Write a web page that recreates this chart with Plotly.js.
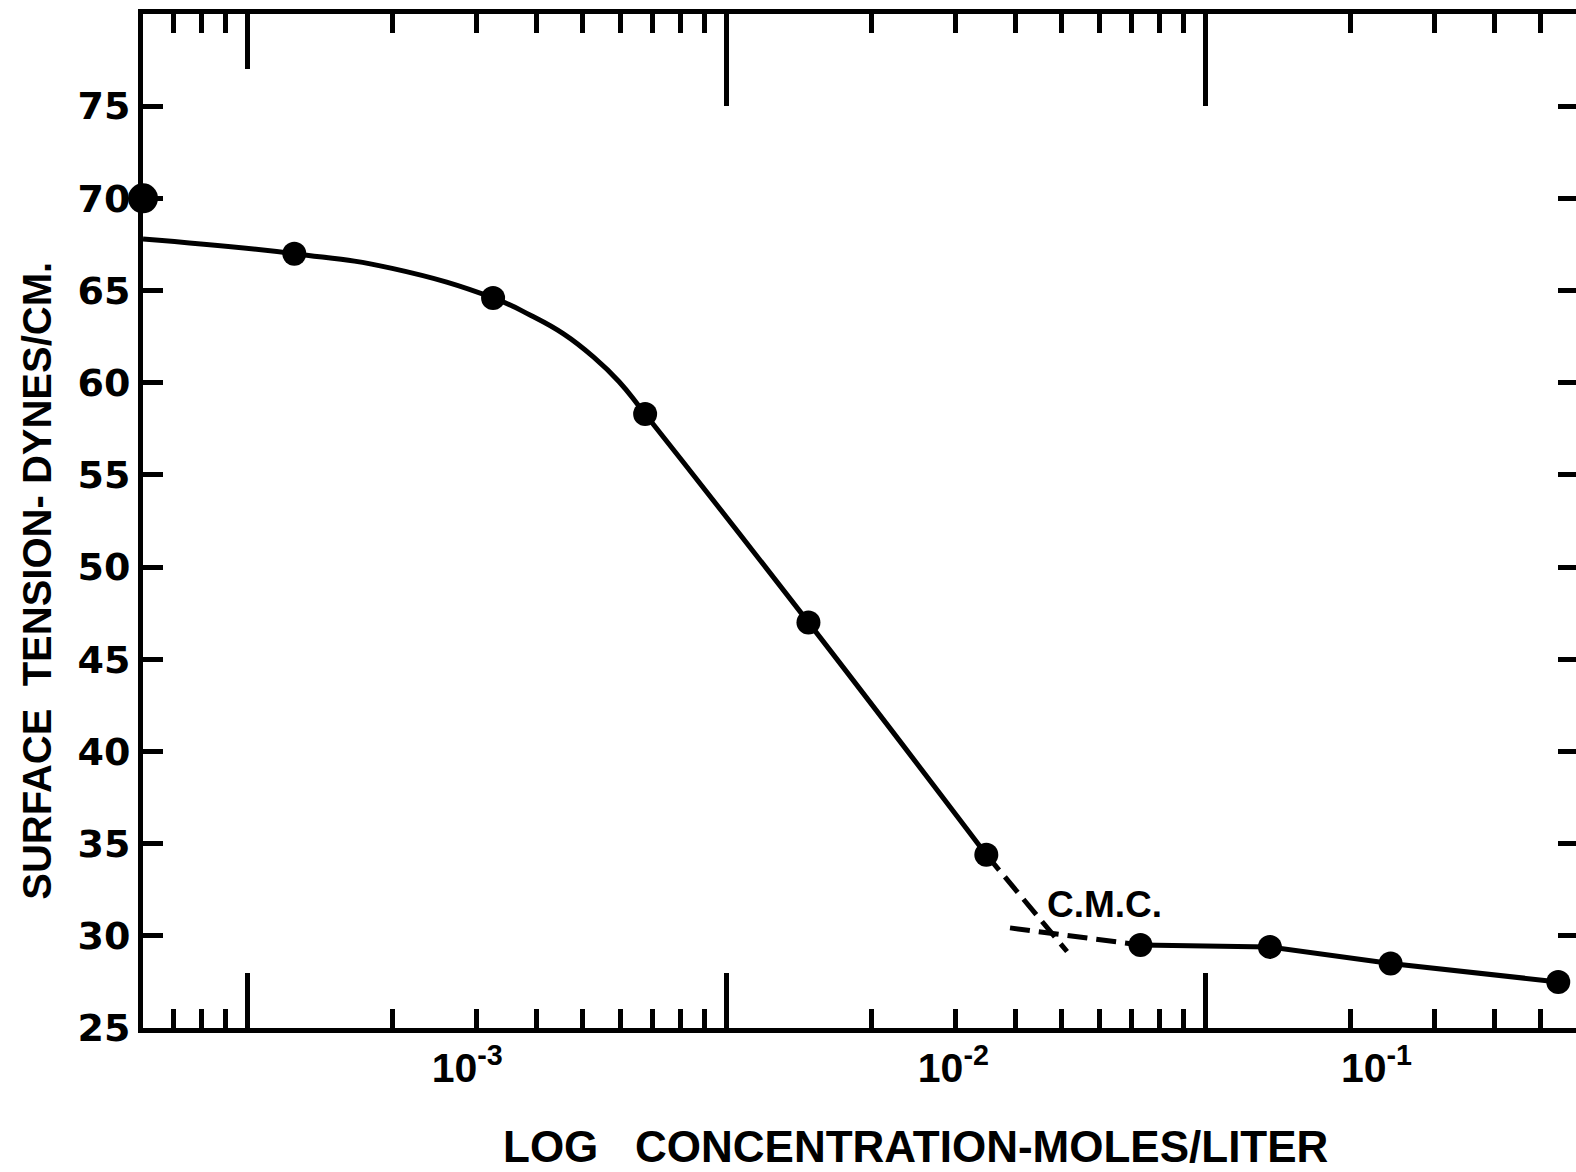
<!DOCTYPE html>
<html>
<head>
<meta charset="utf-8">
<script src="https://cdn.plot.ly/plotly-3.0.1.min.js"></script>
<style>
  html, body { margin: 0; padding: 0; background: #ffffff; overflow: hidden; }
  #chart { width: 1578px; height: 1172px; }
</style>
</head>
<body>
<div id="chart"></div>
<script>
// Surface tension of an aqueous surfactant solution against log concentration.

// Measured points (mol/L, dynes/cm)
const concentration = [1.25e-3, 3.25e-3, 6.75e-3, 1.48e-2, 3.48e-2, 7.3e-2, 0.136, 0.243, 0.544];
const surfaceTension = [67.0, 64.6, 58.3, 47.0, 34.4, 29.5, 29.4, 28.5, 27.5];

// Solvent value plotted on the left axis
const solventConc = [6.04e-4];
const solventTension = [70.0];

// Drawn curve below the CMC
const curveConc = [6.04e-4, 1.25e-3, 2.0e-3, 3.25e-3, 3.89e-3, 4.56e-3, 5.27e-3, 5.95e-3, 6.75e-3, 1.48e-2, 3.48e-2];
const curveTension = [67.8, 67.0, 66.2, 64.6, 63.66, 62.65, 61.39, 60.07, 58.3, 47.0, 34.4];

// Dashed extrapolations meeting at the CMC
const steepExtConc = [3.48e-2, 5.13e-2];
const steepExtTension = [34.4, 29.15];
const plateauExtConc = [3.9e-2, 7.3e-2];
const plateauExtTension = [30.43, 29.5];

// Line above the CMC
const plateauConc = [7.3e-2, 0.136, 0.243, 0.544];
const plateauTension = [29.5, 29.4, 28.5, 27.5];

// Critical micelle concentration (crossing of the two extrapolations)
const cmcConc = 4.7e-2;
const cmcTension = 30.2;
const cmcLabel = 'C.M.C.';

// Axis ticks and labels
const yTickVals = [25, 30, 35, 40, 45, 50, 55, 60, 65, 70, 75];
const decadeTicks = [1e-3, 1e-2, 1e-1];
const decadeLabels = ['10<sup>-3</sup>', '10<sup>-2</sup>', '10<sup>-1</sup>'];
const decadeLabelAt = [2.87e-3, 2.97e-2, 0.227];
const xTitle = 'LOG\u00a0\u00a0 CONCENTRATION-MOLES/LITER';
const yTitle = 'SURFACE\u00a0 TENSION- DYNES/CM.';

const xRange = [Math.log10(6.04e-4), -0.2232];
const yRange = [25, 80];

// Minor log ticks: 2..9 within each decade that falls in range
const minorTicks = [];
for (let e = -4; e <= -1; e++) {
  for (let m = 2; m <= 9; m++) {
    const v = m * Math.pow(10, e);
    const lv = Math.log10(v);
    if (lv > xRange[0] + 1e-6 && lv < xRange[1] - 1e-6) minorTicks.push(v);
  }
}

const INK = '#000000';
const lineW = 5;
const SANS = 'Liberation Sans, Arial, sans-serif';

const traces = [
  { x: curveConc, y: curveTension, mode: 'lines', type: 'scatter',
    line: { color: INK, width: lineW, shape: 'spline', smoothing: 1.3 }, hoverinfo: 'skip' },
  { x: steepExtConc, y: steepExtTension, mode: 'lines', type: 'scatter',
    line: { color: INK, width: lineW, dash: '20px,9px' }, hoverinfo: 'skip' },
  { x: plateauExtConc, y: plateauExtTension, mode: 'lines', type: 'scatter',
    line: { color: INK, width: lineW, dash: '20px,9px' }, hoverinfo: 'skip' },
  { x: plateauConc, y: plateauTension, mode: 'lines', type: 'scatter',
    line: { color: INK, width: lineW }, hoverinfo: 'skip' },
  { x: concentration, y: surfaceTension, mode: 'markers', type: 'scatter',
    marker: { color: INK, size: 24 }, cliponaxis: false },
  { x: solventConc, y: solventTension, mode: 'markers', type: 'scatter',
    marker: { color: INK, size: 30 }, cliponaxis: false },
  // empty traces so the extra axes get laid out
  { x: [], y: [], xaxis: 'x2', yaxis: 'y', type: 'scatter', mode: 'lines' },
  { x: [], y: [], xaxis: 'x3', yaxis: 'y', type: 'scatter', mode: 'lines' },
  { x: [], y: [], xaxis: 'x4', yaxis: 'y', type: 'scatter', mode: 'lines' },
  { x: [], y: [], xaxis: 'x', yaxis: 'y2', type: 'scatter', mode: 'lines' }
];

const minorStyle = {
  tickvals: minorTicks, ticks: 'inside', ticklen: 19, tickwidth: lineW,
  tickcolor: INK, showgrid: false
};

const baseX = {
  type: 'log', range: xRange, showgrid: false, zeroline: false, fixedrange: true
};

const layout = {
  width: 1578,
  height: 1172,
  margin: { l: 143, r: 0, t: 14, b: 144 },
  paper_bgcolor: '#ffffff',
  plot_bgcolor: '#ffffff',
  showlegend: false,
  xaxis: Object.assign({}, baseX, {
    anchor: 'y', side: 'bottom',
    showline: true, linewidth: lineW, linecolor: INK,
    ticks: 'inside', tickvals: decadeTicks, ticklen: 55, tickwidth: lineW, tickcolor: INK,
    showticklabels: false,
    minor: minorStyle
  }),
  xaxis2: Object.assign({}, baseX, {
    overlaying: 'x', anchor: 'y', side: 'bottom',
    showline: false, ticks: '',
    tickvals: decadeLabelAt, ticktext: decadeLabels,
    ticklabelstandoff: 12,
    tickfont: { family: SANS, size: 41, color: INK, weight: 'bold' }
  }),
  xaxis3: Object.assign({}, baseX, {
    overlaying: 'x', anchor: 'y', side: 'top',
    showline: true, linewidth: lineW, linecolor: INK,
    ticks: 'inside', tickvals: [decadeTicks[0]], ticklen: 55, tickwidth: lineW, tickcolor: INK,
    showticklabels: false,
    minor: minorStyle
  }),
  xaxis4: Object.assign({}, baseX, {
    overlaying: 'x', anchor: 'y', side: 'top',
    showline: false,
    ticks: 'inside', tickvals: decadeTicks.slice(1), ticklen: 92, tickwidth: lineW, tickcolor: INK,
    showticklabels: false
  }),
  yaxis: {
    range: yRange, anchor: 'x', side: 'left',
    showline: true, linewidth: lineW, linecolor: INK,
    ticks: 'inside', tickvals: yTickVals, ticklen: 20, tickwidth: lineW, tickcolor: INK,
    ticklabelstandoff: 0,
    tickfont: { family: 'DejaVu Sans, sans-serif', size: 38, color: INK, weight: 'bold' },
    showgrid: false, zeroline: false, fixedrange: true
  },
  yaxis2: {
    range: yRange, overlaying: 'y', anchor: 'x', side: 'right',
    showline: true, linewidth: lineW, linecolor: INK,
    ticks: 'inside', tickvals: yTickVals.slice(1), ticklen: 20, tickwidth: lineW, tickcolor: INK,
    showticklabels: false, showgrid: false, zeroline: false, fixedrange: true
  },
  annotations: [
    {
      xref: 'x', yref: 'y', x: Math.log10(cmcConc), y: cmcTension,
      text: cmcLabel, showarrow: false, xanchor: 'left', yanchor: 'bottom',
      xshift: -4, yshift: 5,
      font: { family: SANS, size: 37, color: INK, weight: 'bold' }
    },
    {
      xref: 'paper', yref: 'paper', x: 0.5383, y: -0.1170,
      text: xTitle, showarrow: false, xanchor: 'center', yanchor: 'middle',
      font: { family: SANS, size: 44, color: INK, weight: 'bold' }
    },
    {
      xref: 'paper', yref: 'paper', x: -0.0741, y: 0.4408,
      text: yTitle, showarrow: false, textangle: -90, xanchor: 'center', yanchor: 'middle',
      font: { family: SANS, size: 40, color: INK, weight: 'bold' }
    }
  ]
};

Plotly.newPlot('chart', traces, layout, { staticPlot: true, displayModeBar: false });
</script>
</body>
</html>
